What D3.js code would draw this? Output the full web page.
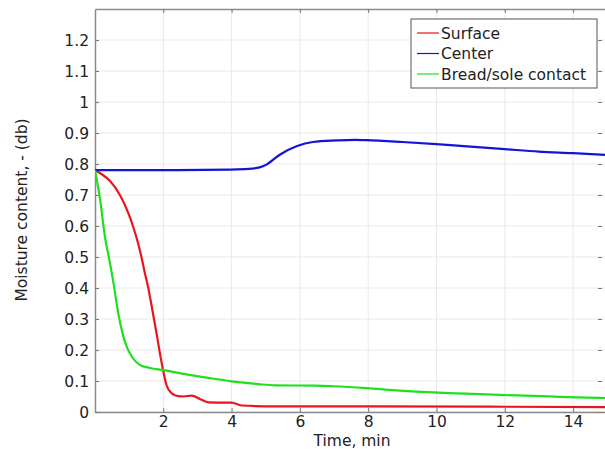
<!DOCTYPE html>
<html>
<head>
<meta charset="utf-8">
<script src="https://cdn.jsdelivr.net/npm/d3@7"></script>
<style>
  html, body { margin: 0; padding: 0; background: #fff; overflow: hidden; }
  svg { display: block; font-family: "DejaVu Sans", sans-serif; }
</style>
</head>
<body>
<div id="chart"></div>
<script>
// moisture curves (time in min, moisture in db)
const surface = [
  [0, 0.78], [0.2, 0.767], [0.44, 0.745], [0.73, 0.70], [0.97, 0.643],
  [1.11, 0.60], [1.26, 0.545], [1.36, 0.50], [1.46, 0.448], [1.56, 0.40],
  [1.66, 0.341], [1.8, 0.255], [1.9, 0.19], [2.0, 0.131], [2.09, 0.088],
  [2.24, 0.061], [2.44, 0.051], [2.6, 0.05], [2.83, 0.053], [3.07, 0.042],
  [3.32, 0.031], [4.0, 0.03], [4.29, 0.021], [5.27, 0.018], [8, 0.018],
  [12, 0.017], [15, 0.016]
];
const center = [
  [0, 0.78], [2, 0.78], [3.95, 0.782], [4.5, 0.784], [4.82, 0.789],
  [5.02, 0.798], [5.41, 0.83], [5.9, 0.857], [6.38, 0.871], [7.07, 0.876],
  [7.6, 0.878], [7.95, 0.877], [9, 0.871], [10, 0.864], [11, 0.856],
  [12, 0.848], [13, 0.84], [14, 0.835], [15, 0.829]
];
const contact = [
  [0, 0.78], [0.15, 0.685], [0.29, 0.566], [0.44, 0.48], [0.55, 0.41],
  [0.68, 0.319], [0.83, 0.244], [0.95, 0.205], [1.1, 0.175], [1.3, 0.153],
  [1.61, 0.142], [2.0, 0.135], [2.44, 0.126], [3.32, 0.11], [4.0, 0.099],
  [4.78, 0.09], [5.27, 0.086], [6.44, 0.085], [6.97, 0.083], [7.95, 0.077],
  [8.92, 0.069], [9.9, 0.063], [10.87, 0.059], [11.85, 0.055], [12.83, 0.052],
  [13.8, 0.048], [15, 0.045]
];
const seriesNames = ["Surface", "Center", "Bread/sole contact"];
const seriesColors = ["#e8161c", "#1414d8", "#1ee01e"];
const xTicks = [2, 4, 6, 8, 10, 12, 14];
const yTicks = [0, 0.1, 0.2, 0.3, 0.4, 0.5, 0.6, 0.7, 0.8, 0.9, 1, 1.1, 1.2];

const W = 605, H = 449;
const plot = { left: 95, top: 9, right: 610, bottom: 412 };

const svg = d3.select("#chart").append("svg")
  .attr("width", W).attr("height", H);

const x = d3.scaleLinear().domain([0, 15.08]).range([plot.left, plot.right]);
const y = d3.scaleLinear().domain([0, 1.3]).range([plot.bottom, plot.top]);

// grid
const grid = svg.append("g").attr("stroke", "#e9e9e9").attr("stroke-width", 1);
grid.selectAll(".gx").data(xTicks).join("line")
  .attr("x1", d => x(d)).attr("x2", d => x(d))
  .attr("y1", plot.top).attr("y2", plot.bottom);
grid.selectAll(".gy").data(yTicks).join("line")
  .attr("x1", plot.left).attr("x2", plot.right)
  .attr("y1", d => y(d)).attr("y2", d => y(d));

// axes: ticks point inward
const axisColor = "#8a8a8a";
const fmt = d => String(d);
const axBottom = svg.append("g").attr("transform", `translate(0,${plot.bottom})`)
  .call(d3.axisBottom(x).tickValues(xTicks).tickSizeInner(-4).tickSizeOuter(0).tickPadding(4).tickFormat(fmt));
const axTop = svg.append("g").attr("transform", `translate(0,${plot.top})`)
  .call(d3.axisTop(x).tickValues(xTicks).tickSizeInner(-4).tickSizeOuter(0).tickFormat(""));
const axLeft = svg.append("g").attr("transform", `translate(${plot.left},0)`)
  .call(d3.axisLeft(y).tickValues(yTicks).tickSizeInner(-4).tickSizeOuter(0).tickPadding(6).tickFormat(fmt));
const axRight = svg.append("g").attr("transform", `translate(${plot.right - 8},0)`)
  .call(d3.axisRight(y).tickValues(yTicks).tickSizeInner(-4).tickSizeOuter(0).tickFormat(""));
axRight.select(".domain").remove();

[axBottom, axTop, axLeft, axRight].forEach(g => {
  g.select(".domain").attr("stroke", axisColor).attr("stroke-width", 1.5);
  g.selectAll(".tick line").attr("stroke", "#777");
  g.selectAll("text").attr("fill", "#222").style("font-size", "15.5px")
    .style("font-family", "DejaVu Sans, sans-serif");
});
axLeft.selectAll("text").attr("dy", "0.36em");
axBottom.selectAll("text").attr("dy", "0.72em");

// curves
const line = d3.line().x(d => x(d[0])).y(d => y(d[1])).curve(d3.curveMonotoneX);
svg.append("clipPath").attr("id", "clip").append("rect")
  .attr("x", plot.left).attr("y", plot.top)
  .attr("width", plot.right - plot.left).attr("height", plot.bottom - plot.top);
svg.append("g").attr("clip-path", "url(#clip)")
  .selectAll("path").data([surface, center, contact]).join("path")
  .attr("d", line)
  .attr("fill", "none")
  .attr("stroke", (d, i) => seriesColors[i])
  .attr("stroke-width", 2.2)
  .attr("stroke-linejoin", "round");

// axis titles
svg.append("text")
  .attr("x", 352).attr("y", 446)
  .attr("text-anchor", "middle")
  .attr("fill", "#222").style("font-size", "15.5px")
  .text("Time, min");
svg.append("text")
  .attr("transform", "translate(27,210) rotate(-90)")
  .attr("text-anchor", "middle")
  .attr("fill", "#222").style("font-size", "15.5px")
  .text("Moisture content, - (db)");

// legend
const lg = svg.append("g").attr("transform", "translate(411,19)");
lg.append("rect")
  .attr("width", 186).attr("height", 69)
  .attr("fill", "#fff").attr("stroke", "#555").attr("stroke-width", 1);
const items = lg.selectAll(".item").data(seriesNames).join("g")
  .attr("transform", (d, i) => `translate(0,${14 + i * 20.5})`);
items.append("line")
  .attr("x1", 6).attr("x2", 28)
  .attr("stroke", (d, i) => seriesColors[i]).attr("stroke-width", 1.2);
items.append("text")
  .attr("x", 30).attr("dy", "0.36em")
  .attr("fill", "#222").style("font-size", "15.5px")
  .text(d => d);
</script>
</body>
</html>
